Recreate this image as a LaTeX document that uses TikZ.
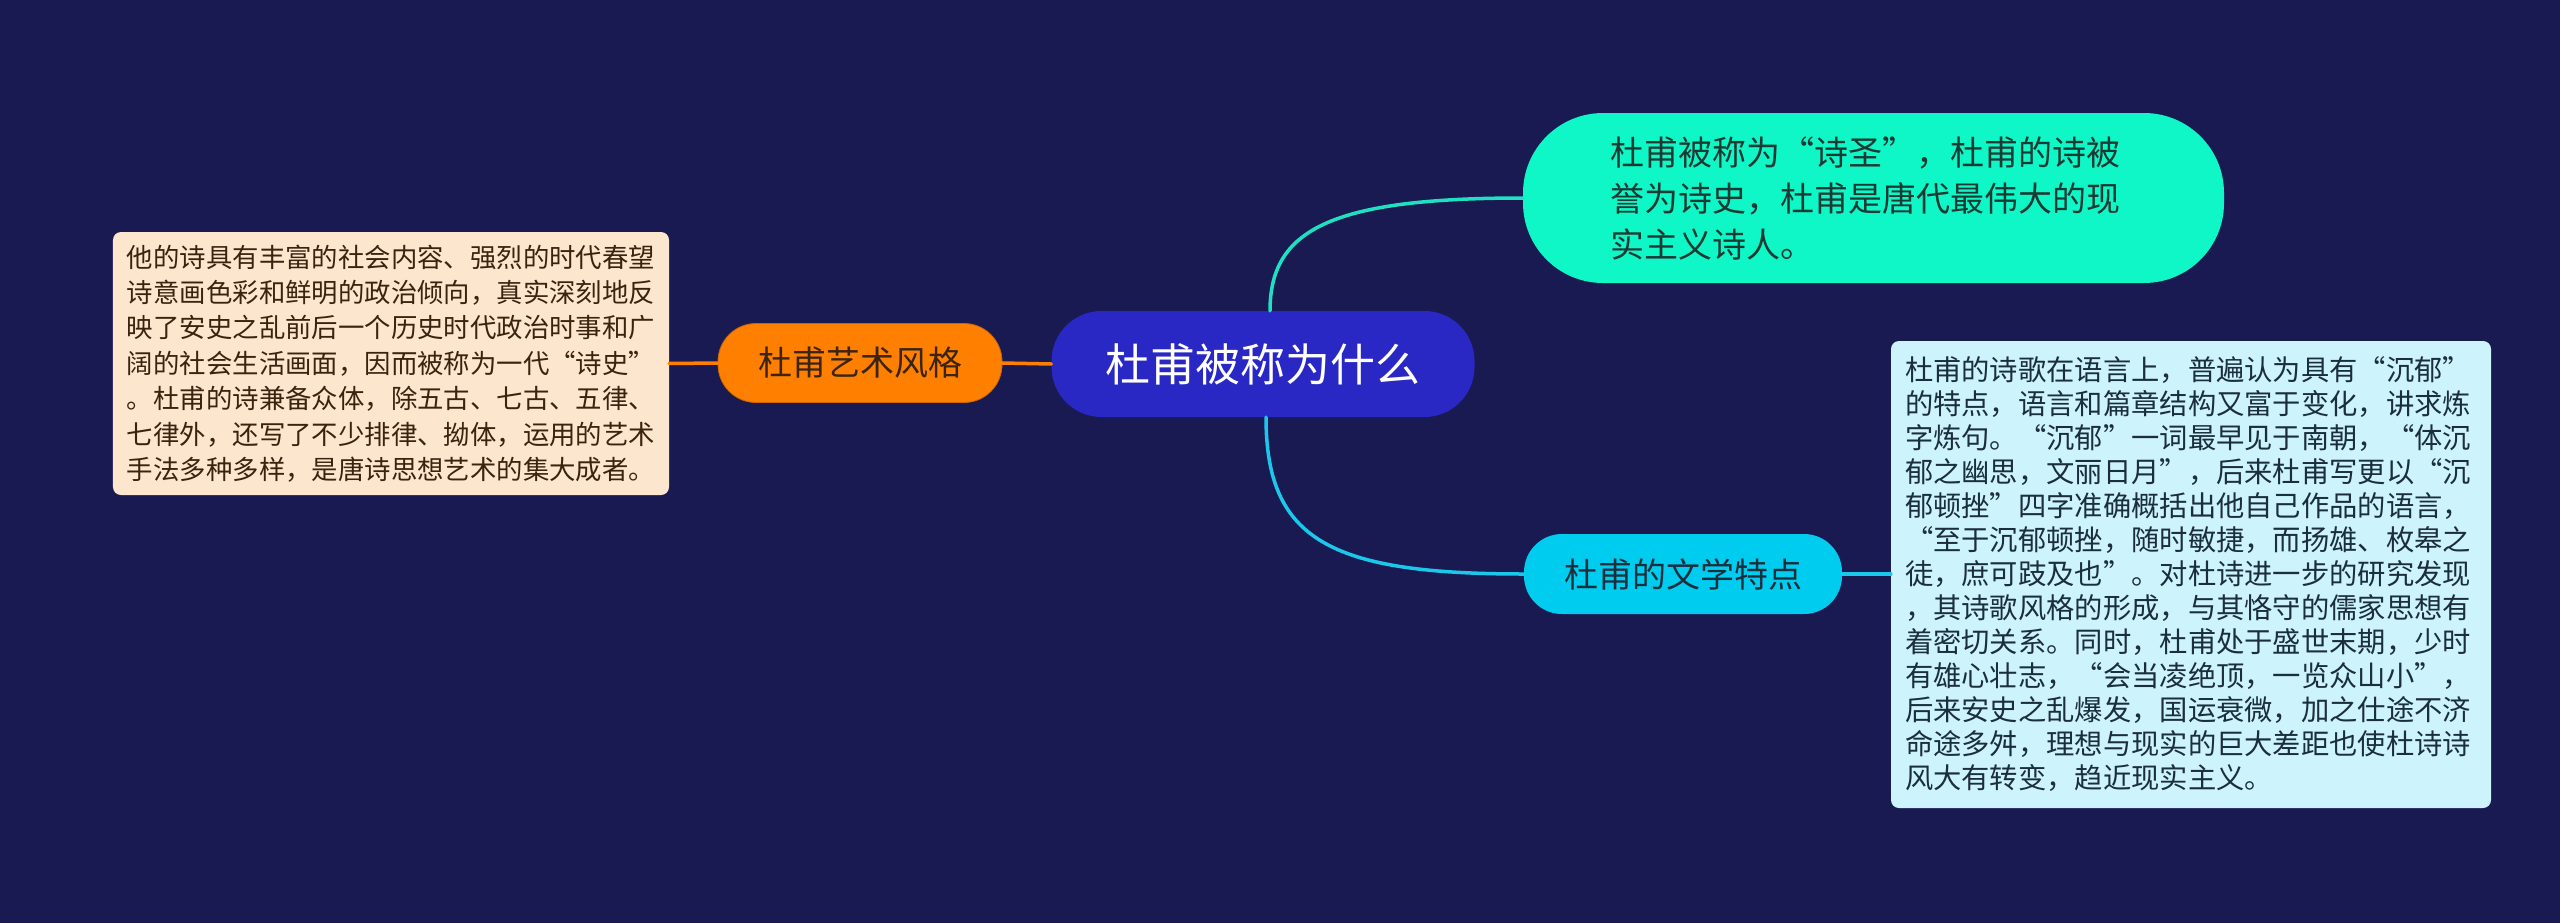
\documentclass[tikz,border=0pt]{standalone}
\usepackage{fontspec}
\setmainfont{Noto Sans CJK SC}
\definecolor{bg}{HTML}{1A1A52}
\definecolor{rootfill}{HTML}{2A28C4}
\definecolor{orangefill}{HTML}{FF7F00}
\definecolor{tealfill}{HTML}{0FF7C6}
\definecolor{cyanfill}{HTML}{00CCF0}
\definecolor{mintline}{HTML}{1FE0C2}
\definecolor{cyanline}{HTML}{1BC8EC}
\definecolor{peach}{HTML}{FDE6CE}
\definecolor{icy}{HTML}{CDF3FC}
\definecolor{browntext}{HTML}{3A2410}
\definecolor{darkteal}{HTML}{1C3A34}
\definecolor{darkblue}{HTML}{1A2E3C}
\tikzset{
  pill/.style={rounded corners=#1, inner sep=0pt, align=center},
  textbox/.style={rounded corners=8bp, align=left, inner ysep=0pt},
  conn/.style={line width=3.5bp, line cap=round},
}
\begin{document}
\begin{tikzpicture}[x=1bp,y=-1bp]
\fill[bg] (0,0) rectangle (2560,923);
\useasboundingbox (0,0) rectangle (2560,923);

% root
\node[pill=50bp, fill=rootfill, text=white, minimum width=423bp, minimum height=106bp,
      font=\fontsize{45bp}{54bp}\selectfont] (root) at (1263,364) {杜甫被称为什么};

% orange branch
\node[pill=38bp, fill=orangefill, draw=orangefill!80!black, line width=0.8bp, text=browntext,
      minimum width=284bp, minimum height=79bp,
      font=\fontsize{34bp}{40bp}\selectfont] (art) at (860,363) {杜甫艺术风格};

\node[textbox, fill=peach, text=browntext, minimum width=556bp, minimum height=263bp,
      text width=528bp, inner xsep=14bp,
      font=\fontsize{26.4bp}{35.4bp}\selectfont] (artbox) at (391,363.5)
  {他的诗具有丰富的社会内容、强烈的时代春望\\
   诗意画色彩和鲜明的政治倾向，真实深刻地反\\
   映了安史之乱前后一个历史时代政治时事和广\\
   阔的社会生活画面，因而被称为一代“诗史”\\
   。杜甫的诗兼备众体，除五古、七古、五律、\\
   七律外，还写了不少排律、拗体，运用的艺术\\
   手法多种多样，是唐诗思想艺术的集大成者。};

% teal branch
\node[pill=80bp, fill=tealfill, text=darkteal, minimum width=701bp, minimum height=170bp,
      align=left, text width=527bp, inner xsep=87bp,
      font=\fontsize{34bp}{46bp}\selectfont] (saint) at (1873.5,198)
  {杜甫被称为“诗圣”，杜甫的诗被\\
   誉为诗史，杜甫是唐代最伟大的现\\
   实主义诗人。};

% cyan branch
\node[pill=38bp, fill=cyanfill, text=darkblue, minimum width=318bp, minimum height=80bp,
      font=\fontsize{34bp}{40bp}\selectfont] (lit) at (1683,574) {杜甫的文学特点};

\node[textbox, fill=icy, text=darkblue, minimum width=600bp, minimum height=467bp,
      text width=572bp, inner xsep=14bp,
      font=\fontsize{28.3bp}{34bp}\selectfont] (litbox) at (2191,574.5)
  {杜甫的诗歌在语言上，普遍认为具有“沉郁”\\
   的特点，语言和篇章结构又富于变化，讲求炼\\
   字炼句。“沉郁”一词最早见于南朝，“体沉\\
   郁之幽思，文丽日月”，后来杜甫写更以“沉\\
   郁顿挫”四字准确概括出他自己作品的语言，\\
   “至于沉郁顿挫，随时敏捷，而扬雄、枚皋之\\
   徒，庶可跂及也”。对杜诗进一步的研究发现\\
   ，其诗歌风格的形成，与其恪守的儒家思想有\\
   着密切关系。同时，杜甫处于盛世末期，少时\\
   有雄心壮志，“会当凌绝顶，一览众山小”，\\
   后来安史之乱爆发，国运衰微，加之仕途不济\\
   命途多舛，理想与现实的巨大差距也使杜诗诗\\
   风大有转变，趋近现实主义。};

% connectors
\coordinate (rootTop) at ([xshift=7bp]root.north);
\coordinate (rootBot) at ([xshift=3bp]root.south);
\draw[conn, mintline] (rootTop) .. controls (1270,230) and (1330,198) .. (saint.west);
\draw[conn, cyanline] (rootBot) .. controls (1266,540) and (1330,574) .. (lit.west);
\draw[conn, orangefill] (artbox.east) -- (art.west);
\draw[conn, orangefill] (art.east) -- (root.west);
\draw[conn, cyanline] (lit.east) -- (litbox.west |- lit.east);
\end{tikzpicture}
\end{document}
